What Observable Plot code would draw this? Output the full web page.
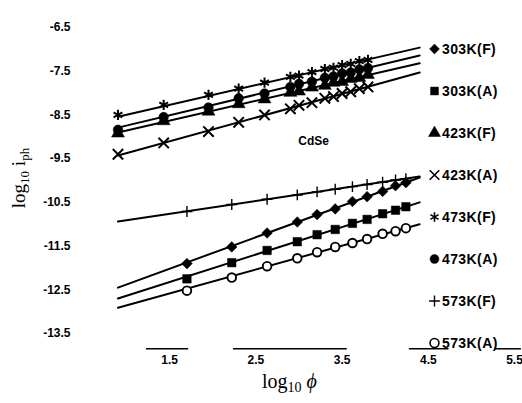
<!DOCTYPE html>
<html>
<head>
<meta charset="utf-8">
<script src="https://cdn.jsdelivr.net/npm/d3@7"></script>
<script src="https://cdn.jsdelivr.net/npm/@observablehq/plot@0.6"></script>
<style>
  html, body { margin: 0; padding: 0; background: #fff; }
  #wrap { position: relative; width: 522px; height: 403px; overflow: hidden; background: #fff; }
  #legend { position: absolute; left: 428px; top: 0; font-family: "Liberation Sans", Arial, sans-serif; font-weight: bold; font-size: 14px; color: #000; }
  .item { position: absolute; left: 0; white-space: nowrap; display: flex; align-items: center; letter-spacing: 0.4px; }
  .item svg { margin-right: 1px; }
  .xt { position: absolute; font-family: "Liberation Serif", "DejaVu Serif", serif; font-size: 20px; color: #000; white-space: nowrap; line-height: 1; }
  .xt sub { font-size: 14px; vertical-align: -4px; }
  #ytitle { font-size: 19px; transform: translate(-50%, -50%) rotate(-90deg); }
  #ytitle sub { font-size: 13px; }
</style>
</head>
<body>
<div id="wrap">
  <div id="plot"></div>
  <div id="legend"></div>
  <div class="xt" id="xtitle">log<sub>10</sub> <i>ϕ</i></div>
  <div class="xt" id="ytitle">log<sub>10</sub> i<sub>ph</sub></div>
</div>
<script>
// ---- data ----
const xTicks = [1.5, 2.5, 3.5, 4.5, 5.5];
const yTicks = [-6.5, -7.5, -8.5, -9.5, -10.5, -11.5, -12.5, -13.5];

const seriesNames = ["303K(F)", "303K(A)", "423K(F)", "423K(A)", "473K(F)", "473K(A)", "573K(F)", "573K(A)"];
const seriesSymbols = ["diamond2", "square", "triangle", "times", "asterisk", "circle", "plus", "circle"];
const seriesFilled = [true, true, true, false, false, true, false, false];

const xUpper = [0.9, 1.43, 1.95, 2.3, 2.6, 2.9, 3.0, 3.15, 3.3, 3.4, 3.5, 3.6, 3.7, 3.8];
const xLower = [1.70, 2.22, 2.63, 2.98, 3.21, 3.42, 3.62, 3.79, 3.97, 4.12, 4.24];

const y303F = [-11.90, -11.52, -11.20, -10.95, -10.78, -10.65, -10.48, -10.37, -10.25, -10.12, -10.05];
const y303A = [-12.25, -11.88, -11.60, -11.40, -11.24, -11.12, -10.98, -10.89, -10.76, -10.68, -10.60];
const y423F = [-8.92, -8.64, -8.42, -8.25, -8.14, -7.99, -7.96, -7.87, -7.83, -7.76, -7.74, -7.67, -7.65, -7.58];
const y423A = [-9.40, -9.14, -8.88, -8.67, -8.50, -8.36, -8.28, -8.22, -8.12, -8.08, -8.01, -7.97, -7.90, -7.86];
const y473F = [-8.50, -8.27, -8.04, -7.90, -7.76, -7.63, -7.60, -7.52, -7.45, -7.42, -7.36, -7.33, -7.27, -7.24];
const y473A = [-8.84, -8.55, -8.33, -8.12, -8.01, -7.86, -7.79, -7.74, -7.65, -7.62, -7.55, -7.53, -7.46, -7.43];
const y573F = [-10.71, -10.55, -10.43, -10.33, -10.26, -10.20, -10.14, -10.09, -10.04, -9.99, -9.96];
const y573A = [-12.52, -12.22, -11.96, -11.78, -11.64, -11.52, -11.43, -11.34, -11.22, -11.16, -11.09];

// fitted straight lines: y at the two ends of fitX
const fitX = [0.9, 4.4];
const fit303F = [-12.45, -9.93];
const fit303A = [-12.70, -10.50];
const fit423F = [-8.90, -7.32];
const fit423A = [-9.43, -7.53];
const fit473F = [-8.54, -6.96];
const fit473A = [-8.79, -7.14];
const fit573F = [-10.94, -9.91];
const fit573A = [-12.91, -11.00];

// broken remains of the x axis line (data units)
const axisY = -13.85;
const axisPieces = [[1.23, 1.72], [2.24, 3.56], [4.28, 4.74], [5.27, 5.58]];

const annotation = {text: "CdSe", x: 3.17, y: -9.09};

// ---- build tables ----
const pointsY = [y303F, y303A, y423F, y423A, y473F, y473A, y573F, y573A];
const pointsX = [xLower, xLower, xUpper, xUpper, xUpper, xUpper, xLower, xLower];
const fits = [fit303F, fit303A, fit423F, fit423A, fit473F, fit473A, fit573F, fit573A];

const fitRows = fits.flatMap((f, i) => fitX.map((x, j) => ({series: seriesNames[i], x, y: f[j]})));

function markStyle(i) {
  const sym = seriesSymbols[i];
  const openCircle = !seriesFilled[i] && sym === "circle";
  if (sym === "plus") return {r: 3.6, fill: "none", strokeWidth: 1.4};
  if (sym === "times" || sym === "asterisk") return {r: 4.8, fill: "none", strokeWidth: 2};
  if (openCircle) return {r: 4.3, fill: "white", strokeWidth: 1.9};
  return {r: 4.8, fill: "black", strokeWidth: 0.5};
}

const dotMarks = seriesNames.map((name, i) => {
  const rows = pointsY[i].map((y, j) => ({series: name, x: pointsX[i][j], y}));
  const sym = seriesSymbols[i];
  const s = markStyle(i);
  return Plot.dot(rows, {x: "x", y: "y", symbol: () => sym, r: s.r, fill: s.fill, stroke: "black", strokeWidth: s.strokeWidth});
});

const chart = Plot.plot({
  width: 522,
  height: 403,
  marginLeft: 83,
  marginRight: 8,
  marginTop: 27,
  marginBottom: 70,
  x: {domain: [0.5, 5.5]},
  y: {domain: [-13.5, -6.5]},
  symbol: {type: "identity"},
  style: {fontFamily: "'Liberation Sans', Arial, sans-serif", fontWeight: "bold", fontSize: "12px", background: "white", color: "black"},
  marks: [
    Plot.axisY({ticks: yTicks, tickSize: 0, tickPadding: 13, tickFormat: d => d.toFixed(1), label: null}),
    Plot.axisX({ticks: xTicks, tickSize: 0, tickPadding: 22, tickFormat: d => d.toFixed(1), label: null}),
    Plot.ruleY(axisPieces, {y: () => axisY, x1: d => d[0], x2: d => d[1], stroke: "black", strokeWidth: 1.5}),
    Plot.line(fitRows, {x: "x", y: "y", z: "series", stroke: "black", strokeWidth: 2}),
    ...dotMarks,
    Plot.text([annotation], {x: "x", y: "y", text: "text", fontSize: 12, fontWeight: "bold"})
  ]
});
document.getElementById("plot").appendChild(chart);

// ---- legend (HTML overlay on the right) ----
const legend = document.getElementById("legend");
const symGen = {diamond2: d3.symbolDiamond2, square: d3.symbolSquare, triangle: d3.symbolTriangle,
  times: d3.symbolTimes, asterisk: d3.symbolAsterisk, circle: d3.symbolCircle, plus: d3.symbolPlus};
seriesNames.forEach((name, i) => {
  const sym = seriesSymbols[i];
  const s = markStyle(i);
  const size = sym === "plus" ? 40 : 62;
  const path = d3.symbol(symGen[sym], size)();
  const item = document.createElement("div");
  item.className = "item";
  item.style.top = (41 + i * 42) + "px";
  item.innerHTML = `<svg width="13" height="14" viewBox="-6.5 -7 13 14"><path d="${path}" fill="${s.fill}" stroke="black" stroke-width="${Math.min(s.strokeWidth, 1.6)}"/></svg><span>${name}</span>`;
  legend.appendChild(item);
});

const xt = document.getElementById("xtitle");
xt.style.left = "262px"; xt.style.top = "371px";
const yt = document.getElementById("ytitle");
yt.style.left = "20px"; yt.style.top = "178px";
</script>
</body>
</html>
